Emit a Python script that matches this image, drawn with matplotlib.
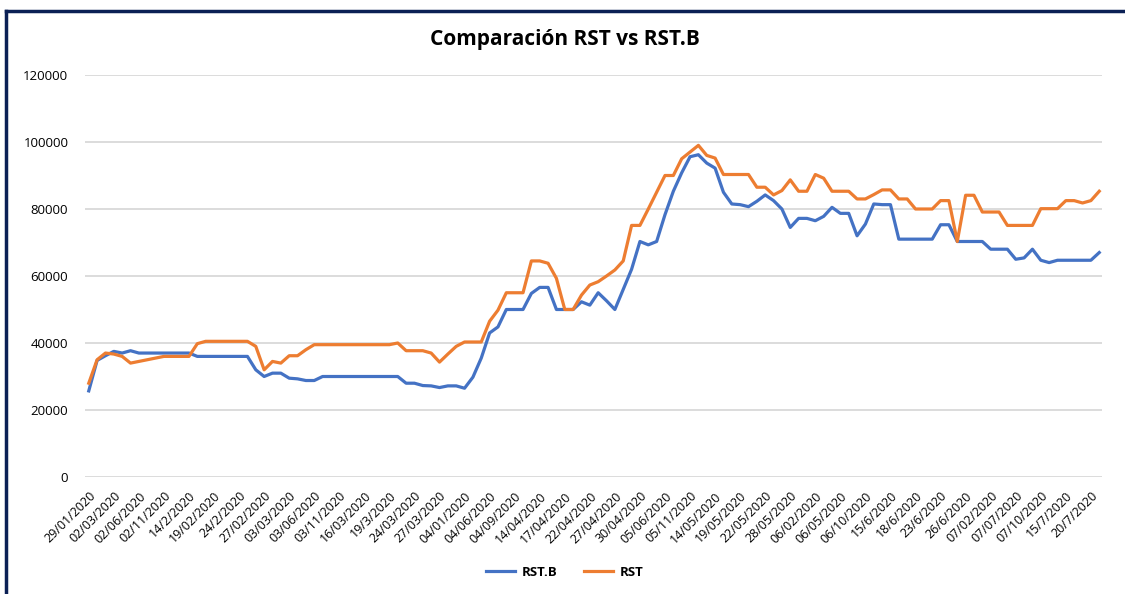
import matplotlib
matplotlib.use("Agg")
import matplotlib.pyplot as plt
from matplotlib.lines import Line2D
import numpy as np

title = "Comparación RST vs RST.B"
series_names = ["RST.B", "RST"]

tick_labels = [
    "29/01/2020", "02/03/2020", "02/06/2020", "02/11/2020", "14/2/2020",
    "19/02/2020", "24/2/2020", "27/02/2020", "03/03/2020", "03/06/2020",
    "03/11/2020", "16/03/2020", "19/3/2020", "24/03/2020", "27/03/2020",
    "04/01/2020", "04/06/2020", "04/09/2020", "14/04/2020", "17/04/2020",
    "22/04/2020", "27/04/2020", "30/04/2020", "05/06/2020", "05/11/2020",
    "14/05/2020", "19/05/2020", "22/05/2020", "28/05/2020", "06/02/2020",
    "06/05/2020", "06/10/2020", "15/6/2020", "18/6/2020", "23/6/2020",
    "26/6/2020", "07/02/2020", "07/07/2020", "07/10/2020", "15/7/2020",
    "20/7/2020",
]

rst_b = [
    25700, 34800, 36200, 37500, 37000, 37700, 37000, 37000, 37000, 37000,
    37000, 37000, 37000, 36000, 36000, 36000, 36000, 36000, 36000, 36000,
    32000, 30000, 31000, 31000, 29500, 29300, 28800, 28800, 30000, 30000,
    30000, 30000, 30000, 30000, 30000, 30000, 30000, 30000, 28000, 28000,
    27300, 27200, 26700, 27200, 27200, 26500, 29800, 35500, 43000, 44800,
    50000, 50000, 50000, 54800, 56600, 56600, 50000, 50000, 50000, 52300,
    51300, 55000, 52600, 50000, 56000, 62000, 70300, 69300, 70300, 78300,
    85300, 90800, 95600, 96200, 93700, 92200, 85000, 81500, 81300, 80700,
    82300, 84200, 82500, 80000, 74500, 77200, 77200, 76500, 77800, 80500,
    78700, 78700, 72000, 75500, 81500, 81300, 81300, 71000, 71000, 71000,
    71000, 71000, 75300, 75300, 70300, 70300, 70300, 70300, 68000, 68000,
    68000, 65000, 65400, 68000, 64700, 64000, 64700, 64700, 64700, 64700,
    64700, 67000,
]

rst = [
    28000, 35000, 37000, 36700, 36000, 34000, 34500, 35000, 35500, 36000,
    36000, 36000, 36000, 39800, 40500, 40500, 40500, 40500, 40500, 40500,
    39000, 32000, 34500, 34000, 36200, 36200, 38000, 39500, 39500, 39500,
    39500, 39500, 39500, 39500, 39500, 39500, 39500, 40000, 37700, 37700,
    37700, 37000, 34300, 36700, 39000, 40300, 40300, 40300, 46500, 49800,
    55000, 55000, 55000, 64500, 64500, 63800, 59300, 50000, 50000, 54300,
    57300, 58300, 60000, 61800, 64500, 75100, 75100, 80000, 85000, 90000,
    90000, 95000, 97000, 99000, 96000, 95200, 90300, 90300, 90300, 90300,
    86500, 86500, 84200, 85500, 88700, 85300, 85300, 90300, 89200, 85300,
    85300, 85300, 83000, 83000, 84300, 85700, 85700, 83000, 83000, 80000,
    80000, 80000, 82500, 82500, 70300, 84100, 84100, 79100, 79100, 79100,
    75100, 75100, 75100, 75100, 80100, 80100, 80100, 82500, 82500, 81800,
    82500, 85300,
]

y_ticks = [0, 20000, 40000, 60000, 80000, 100000, 120000]

BLUE = "#4472C4"
ORANGE = "#ED7D31"
GRID = "#D9D9D9"
NAVY = "#0B2055"

plt.rcParams["font.family"] = ["Open Sans", "DejaVu Sans"]

W, H = 1125, 594
fig = plt.figure(figsize=(W / 100, H / 100), dpi=100)
ax = fig.add_axes([85 / W, (H - 477) / H, (1102 - 85) / W, (477 - 75) / H])

x = np.arange(len(rst_b))
ax.plot(x, rst_b, color=BLUE, lw=2.3, solid_joinstyle="round", zorder=3)
ax.plot(x, rst, color=ORANGE, lw=2.3, solid_joinstyle="round", zorder=4)

ax.set_xlim(-0.45, len(x) - 1 + 0.33)
ax.set_ylim(0, 120000)
ax.set_yticks(y_ticks)
ax.set_yticklabels([str(v) for v in y_ticks], fontsize=9.5)
ax.yaxis.grid(True, color=GRID, lw=1.3)
ax.set_axisbelow(True)
for s in ax.spines.values():
    s.set_visible(False)
ax.tick_params(axis="both", length=0)
ax.tick_params(axis="y", pad=12)

tick_pos = x[::3][: len(tick_labels)]
ax.set_xticks(tick_pos)
ax.set_xticklabels(tick_labels, rotation=45, ha="right", rotation_mode="anchor", fontsize=9)
ax.tick_params(axis="x", pad=9)

fig.text(565 / W, 1 - 40 / H, title, ha="center", va="center", fontsize=15, fontweight="bold")

handles = [Line2D([], [], color=BLUE, lw=2.3), Line2D([], [], color=ORANGE, lw=2.3)]
leg = fig.legend(handles, series_names, loc="center", bbox_to_anchor=(565 / W, 1 - 572 / H),
                 ncol=2, frameon=False, prop={"weight": "bold", "size": 9.5},
                 handlelength=2.2, columnspacing=2.0, handletextpad=0.5)

# outer border (top and left)
fig.add_artist(Line2D([6 / W, 1.0], [1 - 11 / H, 1 - 11 / H], color=NAVY, lw=2.5, transform=fig.transFigure))
fig.add_artist(Line2D([6 / W, 6 / W], [1 - 11 / H, 0.0], color=NAVY, lw=2.5, transform=fig.transFigure))

fig.savefig("out.png", dpi=100)
